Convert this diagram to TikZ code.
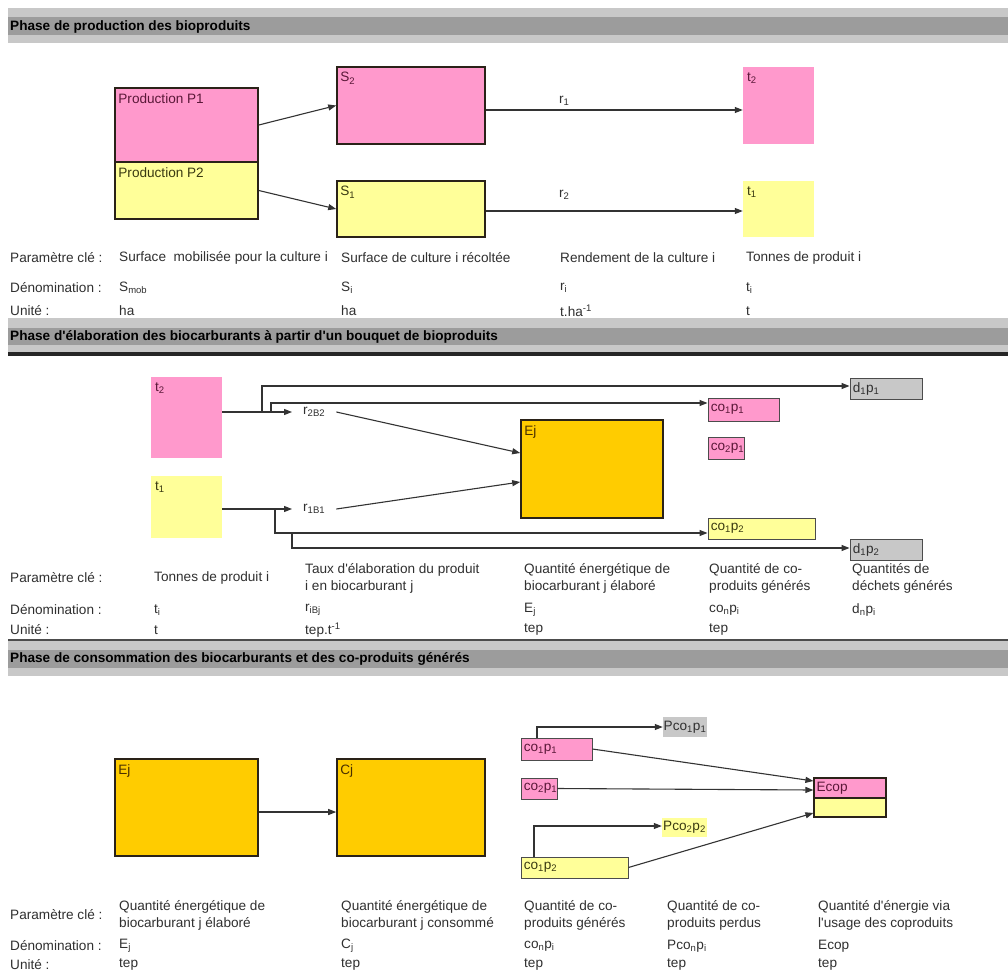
\documentclass[tikz,border=0pt]{standalone}
\usepackage{fontspec}
\setmainfont{Liberation Sans}
\usetikzlibrary{arrows.meta}

\definecolor{pinkfill}{HTML}{FF99CC}
\definecolor{yellowfill}{HTML}{FFFF99}
\definecolor{orangefill}{HTML}{FFCC00}
\definecolor{greyfill}{HTML}{C8C8C8}
\definecolor{bandlight}{HTML}{C8C8C8}
\definecolor{banddark}{HTML}{9C9C9C}
\definecolor{inkpink}{HTML}{5A1838}
\definecolor{inkyellow}{HTML}{3A3A12}
\definecolor{inkorange}{HTML}{4A3000}
\definecolor{inkgrey}{HTML}{303030}
\definecolor{textgrey}{HTML}{303030}
\definecolor{edge}{HTML}{2A2218}

\newcommand{\apos}{\textquotesingle}

\tikzset{
  bigbox/.style={draw=edge, line width=1.6pt, inner sep=0pt},
  smallbox/.style={draw=black!70, line width=0.9pt, inner sep=0pt},
  plainbox/.style={draw=none, inner sep=0pt},
  intext/.style={anchor=north west, inner xsep=4pt, inner ysep=6pt},
  inleft/.style={anchor=west, inner sep=3pt},
  rowlbl/.style={anchor=west, inner sep=0pt, text=textgrey, align=left},
  ratelbl/.style={anchor=west, inner xsep=11pt, inner ysep=1pt, text=textgrey},
  headtxt/.style={anchor=west, inner sep=0pt, font=\fontsize{13.6}{16}\selectfont\bfseries, text=black},
  conn/.style={draw=black!80, line width=1.1pt, -{Triangle[length=8pt,width=6pt]}},
}

\begin{document}
\begin{tikzpicture}[x=1pt, y=-1pt, font=\fontsize{13.6}{17}\selectfont]
\useasboundingbox[fill=white] (0,0) rectangle (1008,971);

% ---------- section headers ----------
\fill[bandlight] (8,8) rectangle (1008,43);
\fill[banddark] (8,17) rectangle (1008,35);
\node[headtxt] (h1) at (10,27) {Phase de production des bioproduits};

\fill[bandlight] (8,318) rectangle (1008,353);
\fill[banddark] (8,328) rectangle (1008,345);
\fill[black!85] (8,352) rectangle (1008,356);
\node[headtxt] (h2) at (10,337) {Phase d\apos élaboration des biocarburants à partir d\apos un bouquet de bioproduits};

\fill[black!70] (8,638.5) rectangle (1008,641);
\fill[bandlight] (8,641) rectangle (1008,676);
\fill[banddark] (8,650) rectangle (1008,668);
\node[headtxt] (h3) at (10,659) {Phase de consommation des biocarburants et des co-produits générés};

% ---------- production phase ----------
\node[bigbox, fill=pinkfill, minimum width=143pt, minimum height=74pt,
  label={[intext, text=inkpink]north west:Production P1}] (p1) at (186.5,125) {};
\node[bigbox, fill=yellowfill, minimum width=143pt, minimum height=57pt,
  label={[intext, text=inkyellow]north west:Production P2}] (p2) at (186.5,190.5) {};
\node[bigbox, fill=pinkfill, minimum width=148pt, minimum height=77pt,
  label={[intext, text=inkpink]north west:S\textsubscript{2}}] (s2) at (411,105.5) {};
\node[bigbox, fill=yellowfill, minimum width=148pt, minimum height=56pt,
  label={[intext, text=inkyellow]north west:S\textsubscript{1}}] (s1) at (411,209) {};
\node[plainbox, fill=pinkfill, minimum width=71pt, minimum height=77pt,
  label={[intext, text=inkpink]north west:t\textsubscript{2}}] (t2a) at (778.5,105.5) {};
\node[plainbox, fill=yellowfill, minimum width=71pt, minimum height=56pt,
  label={[intext, text=inkyellow]north west:t\textsubscript{1}}] (t1a) at (778.5,209) {};

\draw[conn] (p1.east) -- (s2.west);
\draw[conn] (p2.east) -- (s1.west);
\draw[conn] ([yshift=-4.5pt]s2.east) -- ([yshift=-4.5pt]t2a.west);
\draw[conn] ([yshift=-2pt]s1.east) -- ([yshift=-2pt]t1a.west);
\node[rowlbl] (r1) at (559,101) {r\textsubscript{1}};
\node[rowlbl] (r2) at (559,195) {r\textsubscript{2}};

\node[rowlbl] (k1) at (10,258) {Paramètre clé :};
\node[rowlbl] (k1a) at (119,258) {Surface\ \ mobilisée pour la culture i};
\node[rowlbl] (k1b) at (341,258) {Surface de culture i récoltée};
\node[rowlbl] (k1c) at (560,258) {Rendement de la culture i};
\node[rowlbl] (k1d) at (746,258) {Tonnes de produit i};
\node[rowlbl] (d1) at (10,288) {Dénomination :};
\node[rowlbl] (d1a) at (119,288) {S\textsubscript{mob}};
\node[rowlbl] (d1b) at (341,288) {S\textsubscript{i}};
\node[rowlbl] (d1c) at (560,288) {r\textsubscript{i}};
\node[rowlbl] (d1d) at (746,288) {t\textsubscript{i}};
\node[rowlbl] (u1) at (10,311) {Unité :};
\node[rowlbl] (u1a) at (119,311) {ha};
\node[rowlbl] (u1b) at (341,311) {ha};
\node[rowlbl] (u1c) at (560,311) {t.ha\textsuperscript{-1}};
\node[rowlbl] (u1d) at (746,311) {t};

% ---------- elaboration phase ----------
\node[plainbox, fill=pinkfill, minimum width=71pt, minimum height=81pt,
  label={[intext, text=inkpink]north west:t\textsubscript{2}}] (t2b) at (186.5,417.5) {};
\node[plainbox, fill=yellowfill, minimum width=71pt, minimum height=62pt,
  label={[intext, text=inkyellow]north west:t\textsubscript{1}}] (t1b) at (186.5,507) {};
\node[bigbox, fill=orangefill, minimum width=142pt, minimum height=98pt,
  label={[intext, text=inkorange]north west:Ej}] (ej1) at (592,469) {};
\node[smallbox, fill=pinkfill, minimum width=71pt, minimum height=23pt,
  label={[inleft, text=inkpink]west:co\textsubscript{1}p\textsubscript{1}}] (c11) at (743.5,409.5) {};
\node[smallbox, fill=pinkfill, minimum width=36pt, minimum height=22pt,
  label={[inleft, text=inkpink]west:co\textsubscript{2}p\textsubscript{1}}] (c21) at (726,448) {};
\node[smallbox, fill=yellowfill, minimum width=107pt, minimum height=21pt,
  label={[inleft, text=inkyellow]west:co\textsubscript{1}p\textsubscript{2}}] (c12) at (761.5,528.5) {};
\node[smallbox, fill=greyfill, minimum width=72pt, minimum height=21pt,
  label={[inleft, text=inkgrey]west:d\textsubscript{1}p\textsubscript{1}}] (d11) at (886,388.5) {};
\node[smallbox, fill=greyfill, minimum width=72pt, minimum height=21pt,
  label={[inleft, text=inkgrey]west:d\textsubscript{1}p\textsubscript{2}}] (d12) at (886,549.5) {};

\node[ratelbl] (rb2) at (292,412) {r\textsubscript{2B2}};
\node[ratelbl] (rb1) at (292,509) {r\textsubscript{1B1}};

\draw[conn] ([yshift=5.5pt]t2b.east) -- (rb2.west);
\draw[conn] ([yshift=-2pt]t1b.east) -- (rb1.west);
\draw[conn] (rb2.east) -- ([yshift=16pt]ej1.west);
\draw[conn] (rb1.east) -- ([yshift=-13pt]ej1.west);

\coordinate (ja) at (262,412);
\coordinate (jb) at (271,412);
\coordinate (jc) at (275,509);
\coordinate (jd) at (292,533);
\draw[conn] (ja) |- ([yshift=2.5pt]d11.west);
\draw[conn] (jb) |- ([yshift=6.5pt]c11.west);
\draw[conn] (jc) |- ([yshift=-4.5pt]c12.west);
\draw[conn] (jd) |- ([yshift=1.5pt]d12.west);

\node[rowlbl] (k2) at (10,578) {Paramètre clé :};
\node[rowlbl] (k2a) at (154,578) {Tonnes de produit i};
\node[rowlbl] (k2b) at (305,578) {Taux d\apos élaboration du produit\\i en biocarburant j};
\node[rowlbl] (k2c) at (524,578) {Quantité énergétique de\\biocarburant j élaboré};
\node[rowlbl] (k2d) at (709,578) {Quantité de co-\\produits générés};
\node[rowlbl] (k2e) at (852,578) {Quantités de\\déchets générés};
\node[rowlbl] (d2) at (10,610) {Dénomination :};
\node[rowlbl] (d2a) at (154,610) {t\textsubscript{i}};
\node[rowlbl] (d2b) at (305,610) {r\textsubscript{iBj}};
\node[rowlbl] (d2c) at (524,610) {E\textsubscript{j}};
\node[rowlbl] (d2d) at (709,610) {co\textsubscript{n}p\textsubscript{i}};
\node[rowlbl] (d2e) at (852,610) {d\textsubscript{n}p\textsubscript{i}};
\node[rowlbl] (u2) at (10,630) {Unité :};
\node[rowlbl] (u2a) at (154,630) {t};
\node[rowlbl] (u2b) at (305,630) {tep.t\textsuperscript{-1}};
\node[rowlbl] (u2c) at (524,630) {tep};
\node[rowlbl] (u2d) at (709,630) {tep};

% ---------- consumption phase ----------
\node[bigbox, fill=orangefill, minimum width=143pt, minimum height=97pt,
  label={[intext, text=inkorange]north west:Ej}] (ej2) at (186.5,807.5) {};
\node[bigbox, fill=orangefill, minimum width=148pt, minimum height=97pt,
  label={[intext, text=inkorange]north west:Cj}] (cj) at (411,807.5) {};
\draw[conn] ([yshift=-4.5pt]ej2.east) -- ([yshift=-4.5pt]cj.west);

\node[smallbox, fill=pinkfill, minimum width=71pt, minimum height=22pt,
  label={[inleft, text=inkpink]west:co\textsubscript{1}p\textsubscript{1}}] (b11) at (556.5,749) {};
\node[smallbox, fill=pinkfill, minimum width=36pt, minimum height=21pt,
  label={[inleft, text=inkpink]west:co\textsubscript{2}p\textsubscript{1}}] (b21) at (539,788.5) {};
\node[smallbox, fill=yellowfill, minimum width=107pt, minimum height=21pt,
  label={[inleft, text=inkyellow]west:co\textsubscript{1}p\textsubscript{2}}] (b12) at (574.5,867.5) {};
\node[plainbox, fill=greyfill, minimum width=44pt, minimum height=20pt, text=inkgrey]
  (pc1) at (685,727) {Pco\textsubscript{1}p\textsubscript{1}};
\node[plainbox, fill=yellowfill, minimum width=45pt, minimum height=19pt, text=inkyellow]
  (pc2) at (684.5,827.5) {Pco\textsubscript{2}p\textsubscript{2}};
\node[bigbox, line width=1.2pt, fill=pinkfill, minimum width=72pt, minimum height=20pt,
  label={[inleft, text=inkpink]west:Ecop}] (ecopa) at (850,788) {};
\node[bigbox, line width=1.2pt, fill=yellowfill, minimum width=72pt, minimum height=19pt] (ecopb) at (850,807.5) {};

\draw[conn] ([xshift=-19.5pt]b11.north) |- (pc1.west);
\draw[conn] ([xshift=-40.5pt]b12.north) |- ([yshift=1.5pt]pc2.west);
\draw[conn] (b11.east) -- ([yshift=7pt]ecopa.west);
\draw[conn] (b21.east) -- ([yshift=-2pt]ecopa.west);
\draw[conn] (b12.east) -- ([yshift=-5.5pt]ecopb.west);

\node[rowlbl] (k3) at (10,915) {Paramètre clé :};
\node[rowlbl] (k3a) at (119,915) {Quantité énergétique de\\biocarburant j élaboré};
\node[rowlbl] (k3b) at (341,915) {Quantité énergétique de\\biocarburant j consommé};
\node[rowlbl] (k3c) at (524,915) {Quantité de co-\\produits générés};
\node[rowlbl] (k3d) at (667,915) {Quantité de co-\\produits perdus};
\node[rowlbl] (k3e) at (818,915) {Quantité d\apos énergie via\\l\apos usage des coproduits};
\node[rowlbl] (d3) at (10,946) {Dénomination :};
\node[rowlbl] (d3a) at (119,946) {E\textsubscript{j}};
\node[rowlbl] (d3b) at (341,946) {C\textsubscript{j}};
\node[rowlbl] (d3c) at (524,946) {co\textsubscript{n}p\textsubscript{i}};
\node[rowlbl] (d3d) at (667,946) {Pco\textsubscript{n}p\textsubscript{i}};
\node[rowlbl] (d3e) at (818,946) {Ecop};
\node[rowlbl] (u3) at (10,965) {Unité :};
\node[rowlbl] (u3a) at (119,965) {tep};
\node[rowlbl] (u3b) at (341,965) {tep};
\node[rowlbl] (u3c) at (524,965) {tep};
\node[rowlbl] (u3d) at (667,965) {tep};
\node[rowlbl] (u3e) at (818,965) {tep};
\end{tikzpicture}
\end{document}
